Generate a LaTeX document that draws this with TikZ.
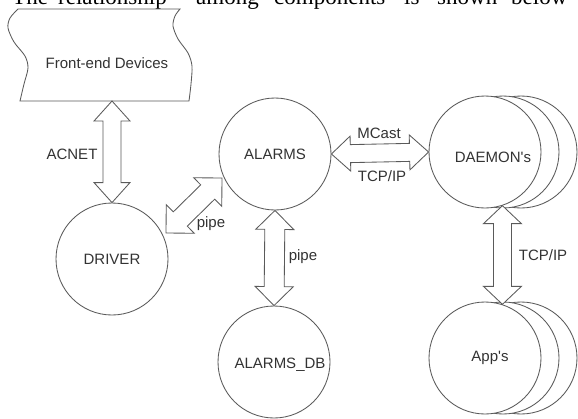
\documentclass[tikz,border=0pt]{standalone}
\usepackage{fontspec}
\setmainfont{Liberation Serif}
\newfontfamily\arialf{Liberation Sans}
\usetikzlibrary{calc}
\definecolor{linec}{HTML}{5A5A5A}
\definecolor{txtc}{HTML}{333333}
% #1 name, #2 tip A, #3 tip B, #4 head length, #5 head half width, #6 shaft half width
\newcommand\mydblarrow[6]{%
  \coordinate (#1-p) at ($(#2)!#4!(#3)$);
  \coordinate (#1-q) at ($(#3)!#4!(#2)$);
  \draw[arrline] (#2) -- ($(#1-p)!#5!90:(#3)$) -- ($(#1-p)!#6!90:(#3)$)
    -- ($(#1-q)!#6!-90:(#2)$) -- ($(#1-q)!#5!-90:(#2)$) -- (#3)
    -- ($(#1-q)!#5!90:(#2)$) -- ($(#1-q)!#6!90:(#2)$)
    -- ($(#1-p)!#6!-90:(#3)$) -- ($(#1-p)!#5!-90:(#3)$) -- cycle;}
\begin{document}
\begin{tikzpicture}[x=1pt,y=-1pt,
  outline/.style={draw=linec, line width=0.85pt, line join=miter},
  arrline/.style={outline, fill=white},
  lbl/.style={font=\arialf\fontsize{15}{18}\selectfont, text=txtc, inner sep=1pt},
  circ/.style={circle, outline, fill=white, minimum size=112pt, inner sep=0pt,
    font=\arialf\fontsize{15}{18}\selectfont, text=txtc},
  topword/.style={font=\fontsize{23}{27}\selectfont, anchor=base west, inner sep=0pt}]
\useasboundingbox (0,0) rectangle (578,418);
\clip (0,0) rectangle (578,418);
\fill[white] (0,0) rectangle (578,418);
% top text line (cut off at the top)
\foreach \w/\x [count=\i] in {The/12, relationship/58, among/196, components/274, is/404, shown/437, below/511}
  \node[topword] (w\i) at (\x,4) {\w};
% Front-end devices
\draw[outline] (18,9) -- (180,9)
  -- plot[smooth] coordinates {(180,9) (175,16) (173,26) (178,39) (188,53) (192,66) (191,84) (189,101)}
  -- (20,101)
  -- plot[smooth] coordinates {(20,101) (24,84) (28,68) (25,56) (14,42) (8,28) (10,18) (18,9)} -- cycle;
\node[lbl] (fe) at (107,63) {Front-end Devices};
\coordinate (fe-s) at (112,101);
% circles
\node[circ] (driver) at (112,259) {DRIVER};
\node[circ] (alarms) at (275,154) {ALARMS};
\node[circ, label={[lbl, xshift=6pt, yshift=-3pt]center:ALARMS\_DB}] (db) at (274,362) {};
\node[circ] (daemon3) at (521,152) {};
\node[circ] (daemon2) at (503,152) {};
\node[circ, label={[lbl, xshift=8pt, yshift=-5pt]center:DAEMON's}] (daemon) at (485,152) {};
\node[circ] (apps3) at (521,358) {};
\node[circ] (apps2) at (503,358) {};
\node[circ, label={[lbl, xshift=5pt]center:App's}] (apps) at (485,358) {};
% connectors
\mydblarrow{acnet}{fe-s}{driver.north}{20pt}{18pt}{9pt}
\node[lbl] (acnetl) at (72,154) {ACNET};
\coordinate (pd1) at (166,233);
\coordinate (pd2) at (222,178);
\mydblarrow{pdiag}{pd1}{pd2}{20pt}{20pt}{10pt}
\node[lbl] (pipe1) at (211,224) {pipe};
\mydblarrow{pvert}{alarms.south}{db.north}{19pt}{19pt}{10pt}
\node[lbl] (pipe2) at (303,257) {pipe};
\mydblarrow{mcast}{alarms.east}{daemon.west}{19pt}{17.5pt}{9pt}
\node[lbl] (mcastl) at (379,133) {MCast};
\node[lbl] (tcp1) at (382,176) {TCP/IP};
\mydblarrow{tcp}{daemon.-72}{apps.72}{18pt}{19pt}{9pt}
\node[lbl] (tcp2) at (543,255) {TCP/IP};
\end{tikzpicture}
\end{document}
